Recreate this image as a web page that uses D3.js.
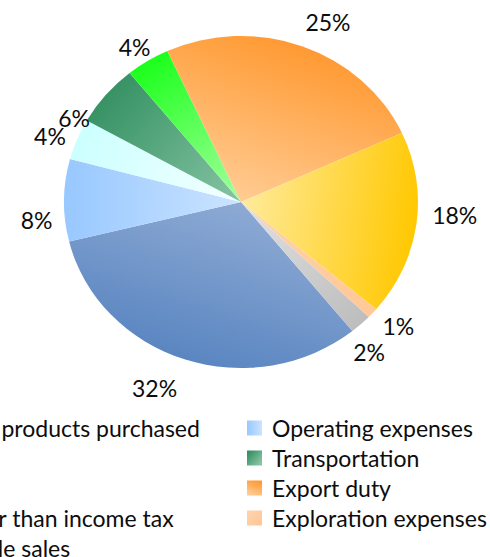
<!DOCTYPE html>
<html>
<head>
<meta charset="utf-8">
<script src="https://cdn.jsdelivr.net/npm/d3@7"></script>
<style>
  html, body { margin: 0; padding: 0; background: #ffffff; overflow: hidden; }
  svg { display: block; }
  text { font-family: Lato, "Open Sans", sans-serif; fill: #0d0d0d; }
</style>
</head>
<body>
<svg id="chart" width="490" height="557"></svg>
<script>
// Cost structure, share of total (%)
const categories = [
  "Crude and products purchased",
  "Operating expenses",
  "SG&A",
  "Transportation",
  "DD&A",
  "Export duty",
  "Taxes other than income tax",
  "Exploration expenses",
  "Other resale sales"
];
const shares = [32, 8, 4, 6, 4, 25, 18, 1, 2];
const labels = shares.map(v => v + "%");

// Each slice fades from a saturated rim colour to a lighter tone at the centre
const rimColors    = ["#5a86c1", "#98c8ff", "#ccffff", "#379264", "#1cff1c", "#ff9a33", "#ffc800", "#ffc898", "#bdbdbd"];
const centreColors = ["#8eaad4", "#cbe4ff", "#f4ffff", "#86c4a4", "#a6ffa0", "#ffcc94", "#ffeb9c", "#ffd2aa", "#e2e2e2"];

// label placement: angular shift from the slice middle (deg) and distance (x rim radius)
const labelShift  = [5, -6, -2, -12, -1, 4, -4, -2, 4];
const labelRadius = [1.22, 1.16, 1.15, 1.07, 1.11, 1.19, 1.21, 1.16, 1.16];

const cx = 241, cy = 202, rx = 177, ry = 166;
const firstAngle = 141 * Math.PI / 180;
const fontSize = 23;

const svg = d3.select("#chart");
const defs = svg.append("defs");

const pie = d3.pie().sort(null).value(d => d)
  .startAngle(firstAngle).endAngle(firstAngle + 2 * Math.PI);
const arcs = pie(shares);
const arc = d3.arc().innerRadius(0).outerRadius(rx);
const midAngle = a => (a.startAngle + a.endAngle) / 2;

// slice gradients, in the pie's own (unscaled) coordinates
arcs.forEach((a, i) => {
  const m = midAngle(a);
  const g = defs.append("linearGradient")
    .attr("id", "grad" + i)
    .attr("gradientUnits", "userSpaceOnUse")
    .attr("x1", 0).attr("y1", 0)
    .attr("x2", rx * Math.sin(m)).attr("y2", -rx * Math.cos(m));
  g.append("stop").attr("offset", "0").attr("stop-color", centreColors[i]);
  g.append("stop").attr("offset", "1").attr("stop-color", rimColors[i]);
});

const pieG = svg.append("g")
  .attr("transform", `translate(${cx},${cy}) scale(1,${ry / rx})`);

pieG.selectAll("path.slice")
  .data(arcs)
  .join("path")
  .attr("class", "slice")
  .attr("d", arc)
  .attr("fill", (d, i) => `url(#grad${i})`);

// percentage labels outside the rim
svg.append("g").selectAll("text.pct")
  .data(arcs)
  .join("text")
  .attr("class", "pct")
  .attr("font-size", fontSize)
  .attr("text-anchor", "middle")
  .attr("dominant-baseline", "central")
  .attr("x", (d, i) => cx + labelRadius[i] * rx * Math.sin(midAngle(d) + labelShift[i] * Math.PI / 180))
  .attr("y", (d, i) => cy - labelRadius[i] * ry * Math.cos(midAngle(d) + labelShift[i] * Math.PI / 180))
  .text((d, i) => labels[i]);

// legend: two columns, filled row by row
const colX = [-109, 272];
const rowY0 = 428, rowStep = 30;
const sw = 15;

const legend = svg.append("g");
categories.forEach((name, i) => {
  const col = i % 2, row = Math.floor(i / 2);
  const x = colX[col], y = rowY0 + row * rowStep;
  const m = midAngle(arcs[i]);
  const dx = Math.sin(m) / 2, dy = -Math.cos(m) / 2;
  const sg = defs.append("linearGradient")
    .attr("id", "lg" + i)
    .attr("x1", 0.5 - dx).attr("y1", 0.5 - dy)
    .attr("x2", 0.5 + dx).attr("y2", 0.5 + dy);
  sg.append("stop").attr("offset", "0").attr("stop-color", centreColors[i]);
  sg.append("stop").attr("offset", "1").attr("stop-color", rimColors[i]);
  legend.append("rect")
    .attr("x", x - 25).attr("y", y - sw / 2)
    .attr("width", sw).attr("height", sw)
    .attr("fill", `url(#lg${i})`);
  legend.append("text")
    .attr("x", x).attr("y", y)
    .attr("font-size", fontSize)
    .attr("dominant-baseline", "central")
    .text(name);
});
</script>
</body>
</html>
